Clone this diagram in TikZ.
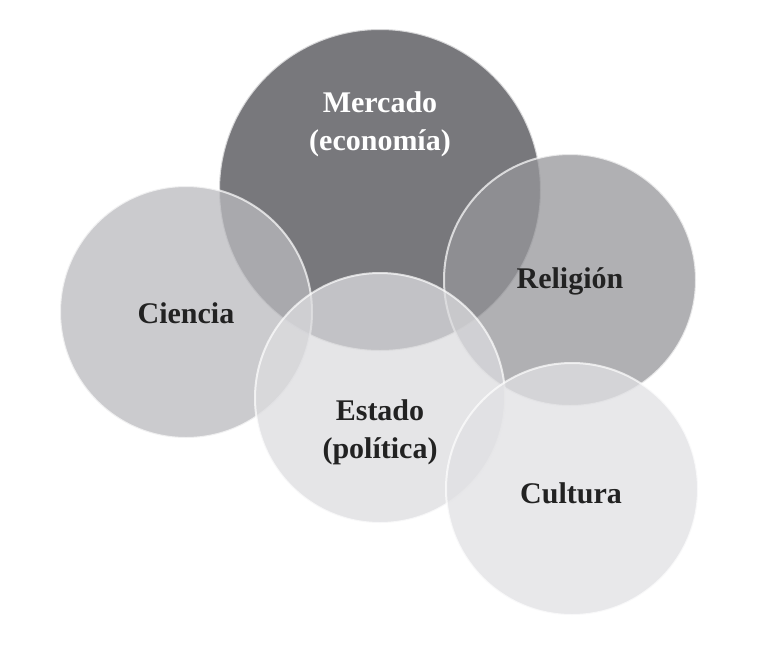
\documentclass[tikz,border=0pt]{standalone}
\usepackage{fontspec}
\setmainfont{Liberation Serif}
\usetikzlibrary{positioning}

\definecolor{mercadogray}{RGB}{120,120,124}
\definecolor{cienciagray}{RGB}{186,186,190}
\definecolor{religiongray}{RGB}{150,150,154}
\definecolor{estadogray}{RGB}{220,220,223}
\definecolor{culturagray}{RGB}{224,224,227}
\definecolor{labelgray}{RGB}{34,34,34}

\tikzset{
  area/.style={circle, draw=white, draw opacity=0.7, line width=2pt, fill opacity=0.75, text opacity=1, inner sep=0pt},
  lab/.style={align=center, font=\fontsize{30}{38}\selectfont\bfseries, text=labelgray}
}

\begin{document}
\begin{tikzpicture}[x=1pt,y=-1pt]
\useasboundingbox (0,0) rectangle (763,646);
\node[area,fill=mercadogray,fill opacity=1,minimum size=322pt] (M) at (380,190) {};
\node[area,fill=cienciagray,minimum size=252pt] (C) at (186,312) {};
\node[area,fill=religiongray,minimum size=252pt] (R) at (570,280) {};
\node[area,fill=estadogray,minimum size=250pt] (E) at (380,398) {};
\node[area,fill=culturagray,minimum size=252pt] (K) at (572,489) {};

\node[lab,text=white] (Mt) at (380,124) {Mercado\\(economía)};
\node[lab] (Ct) at (186,313) {Ciencia};
\node[lab] (Rt) at (570,281) {Religión};
\node[lab] (Et) at (380,432) {Estado\\(política)};
\node[lab] (Kt) at (571,493) {Cultura};
\end{tikzpicture}
\end{document}
